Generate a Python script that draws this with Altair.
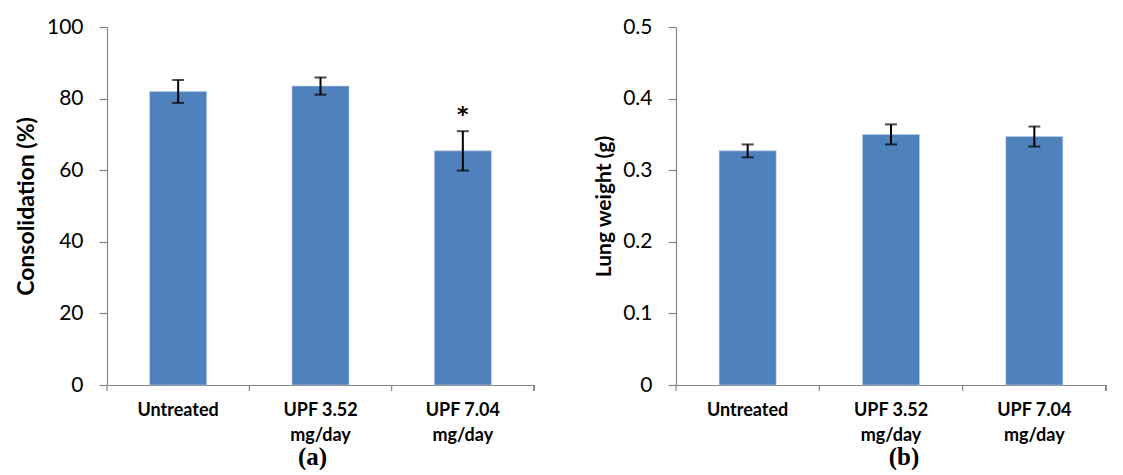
import altair as alt
import pandas as pd

categories = ["Untreated", "UPF 3.52 mg/day", "UPF 7.04 mg/day"]
consolidation = [82.0, 83.5, 65.4]
consolidation_err = [3.2, 2.4, 5.5]
lung_weight = [0.327, 0.350, 0.347]
lung_weight_err = [0.009, 0.014, 0.014]
star_label = ["", "", "*"]
star_value = [None, None, 76.0]

BLUE = "#4F81BD"
GRAY = "#868686"
FONT = "Lato"

label_expr = ("indexof(datum.label,' mg')>0 ? [substring(datum.label,0,indexof(datum.label,' mg')),"
              " substring(datum.label,indexof(datum.label,' mg')+1)] : datum.label")


def panel(values, errs, ytitle, tsize, ymax, tickvals, ylab_expr, W, sub, sub_dx, stars=None):
    df = pd.DataFrame({
        "cat": categories,
        "v": values,
        "lo": [v - e for v, e in zip(values, errs)],
        "hi": [v + e for v, e in zip(values, errs)],
    })
    H = 358
    xs = alt.Scale(domain=categories, paddingInner=0, paddingOuter=0)
    x = alt.X("cat:N", scale=xs, sort=categories, title=None,
              axis=alt.Axis(labelAngle=0, labelExpr=label_expr, labelFont=FONT,
                            labelFontSize=18, labelFontWeight="bold", labelColor="black",
                            labelLineHeight=25, labelPadding=16, ticks=False,
                            domainColor=GRAY, domainWidth=1.2, labelBaseline="top"))
    y = alt.Y("v:Q", scale=alt.Scale(domain=[0, ymax], nice=False, zero=True),
              title=ytitle,
              axis=alt.Axis(values=tickvals, grid=False, labelExpr=ylab_expr,
                            labelFont=FONT, labelFontSize=21, labelColor="black",
                            labelPadding=16, tickSize=8, tickColor=GRAY, tickWidth=1.2,
                            domainColor=GRAY, domainWidth=1.2,
                            titleFont=FONT, titleFontSize=tsize, titleFontWeight="bold",
                            titleColor="black", titlePadding=8))
    base = alt.Chart(df)
    bars = base.mark_bar(color=BLUE, size=57, stroke="#B9CDE5", strokeWidth=0.6).encode(x=x, y=y)
    rule = base.mark_rule(color="black", strokeWidth=2).encode(
        x=alt.X("cat:N", scale=xs, sort=categories), y="lo:Q", y2="hi:Q")
    cap_lo = base.mark_tick(color="black", thickness=2, size=12).encode(
        x=alt.X("cat:N", scale=xs, sort=categories), y="lo:Q")
    cap_hi = base.mark_tick(color="black", thickness=2, size=12).encode(
        x=alt.X("cat:N", scale=xs, sort=categories), y="hi:Q")
    xticks = base.mark_rule(color=GRAY, strokeWidth=1.2).encode(
        x=alt.X("cat:N", scale=xs, sort=categories, bandPosition=0),
        y=alt.value(H), y2=alt.value(H + 6))
    endtick = base.mark_rule(color=GRAY, strokeWidth=1.2).encode(
        x=alt.value(W), y=alt.value(H), y2=alt.value(H + 6))
    layers = [bars, rule, cap_lo, cap_hi, xticks, endtick]
    if stars is not None:
        sdf = pd.DataFrame({"cat": categories, "s": stars[0], "sv": stars[1]}).dropna()
        star = alt.Chart(sdf).mark_text(font="DejaVu Sans", fontSize=22, color="#000000",
                                        fontWeight="bold", baseline="middle", dy=2).encode(
            x=alt.X("cat:N", scale=xs, sort=categories), y="sv:Q", text="s:N")
        layers.append(star)
    return alt.layer(*layers).properties(
        width=W, height=H,
        title=alt.TitleParams(sub, orient="bottom", font="Liberation Serif", fontSize=25,
                              fontWeight="bold", color="black", dx=sub_dx, offset=1))


a = panel(consolidation, consolidation_err, "Consolidation (%)", 23, 100,
          [0, 20, 40, 60, 80, 100], "datum.label", 427, "(a)", -8,
          stars=(star_label, star_value))
b = panel(lung_weight, lung_weight_err, "Lung weight (g)", 21, 0.5,
          [0, 0.1, 0.2, 0.3, 0.4, 0.5],
          "datum.value == 0 ? '0' : format(datum.value, '.1f')", 430, "(b)", 13)

chart = alt.hconcat(a, b, spacing=58).properties(
    padding={"left": 7, "top": 8, "right": 0, "bottom": 0}
).configure_view(stroke=None)

chart.save("out.html", embed_options={"renderer": "svg", "actions": False})
